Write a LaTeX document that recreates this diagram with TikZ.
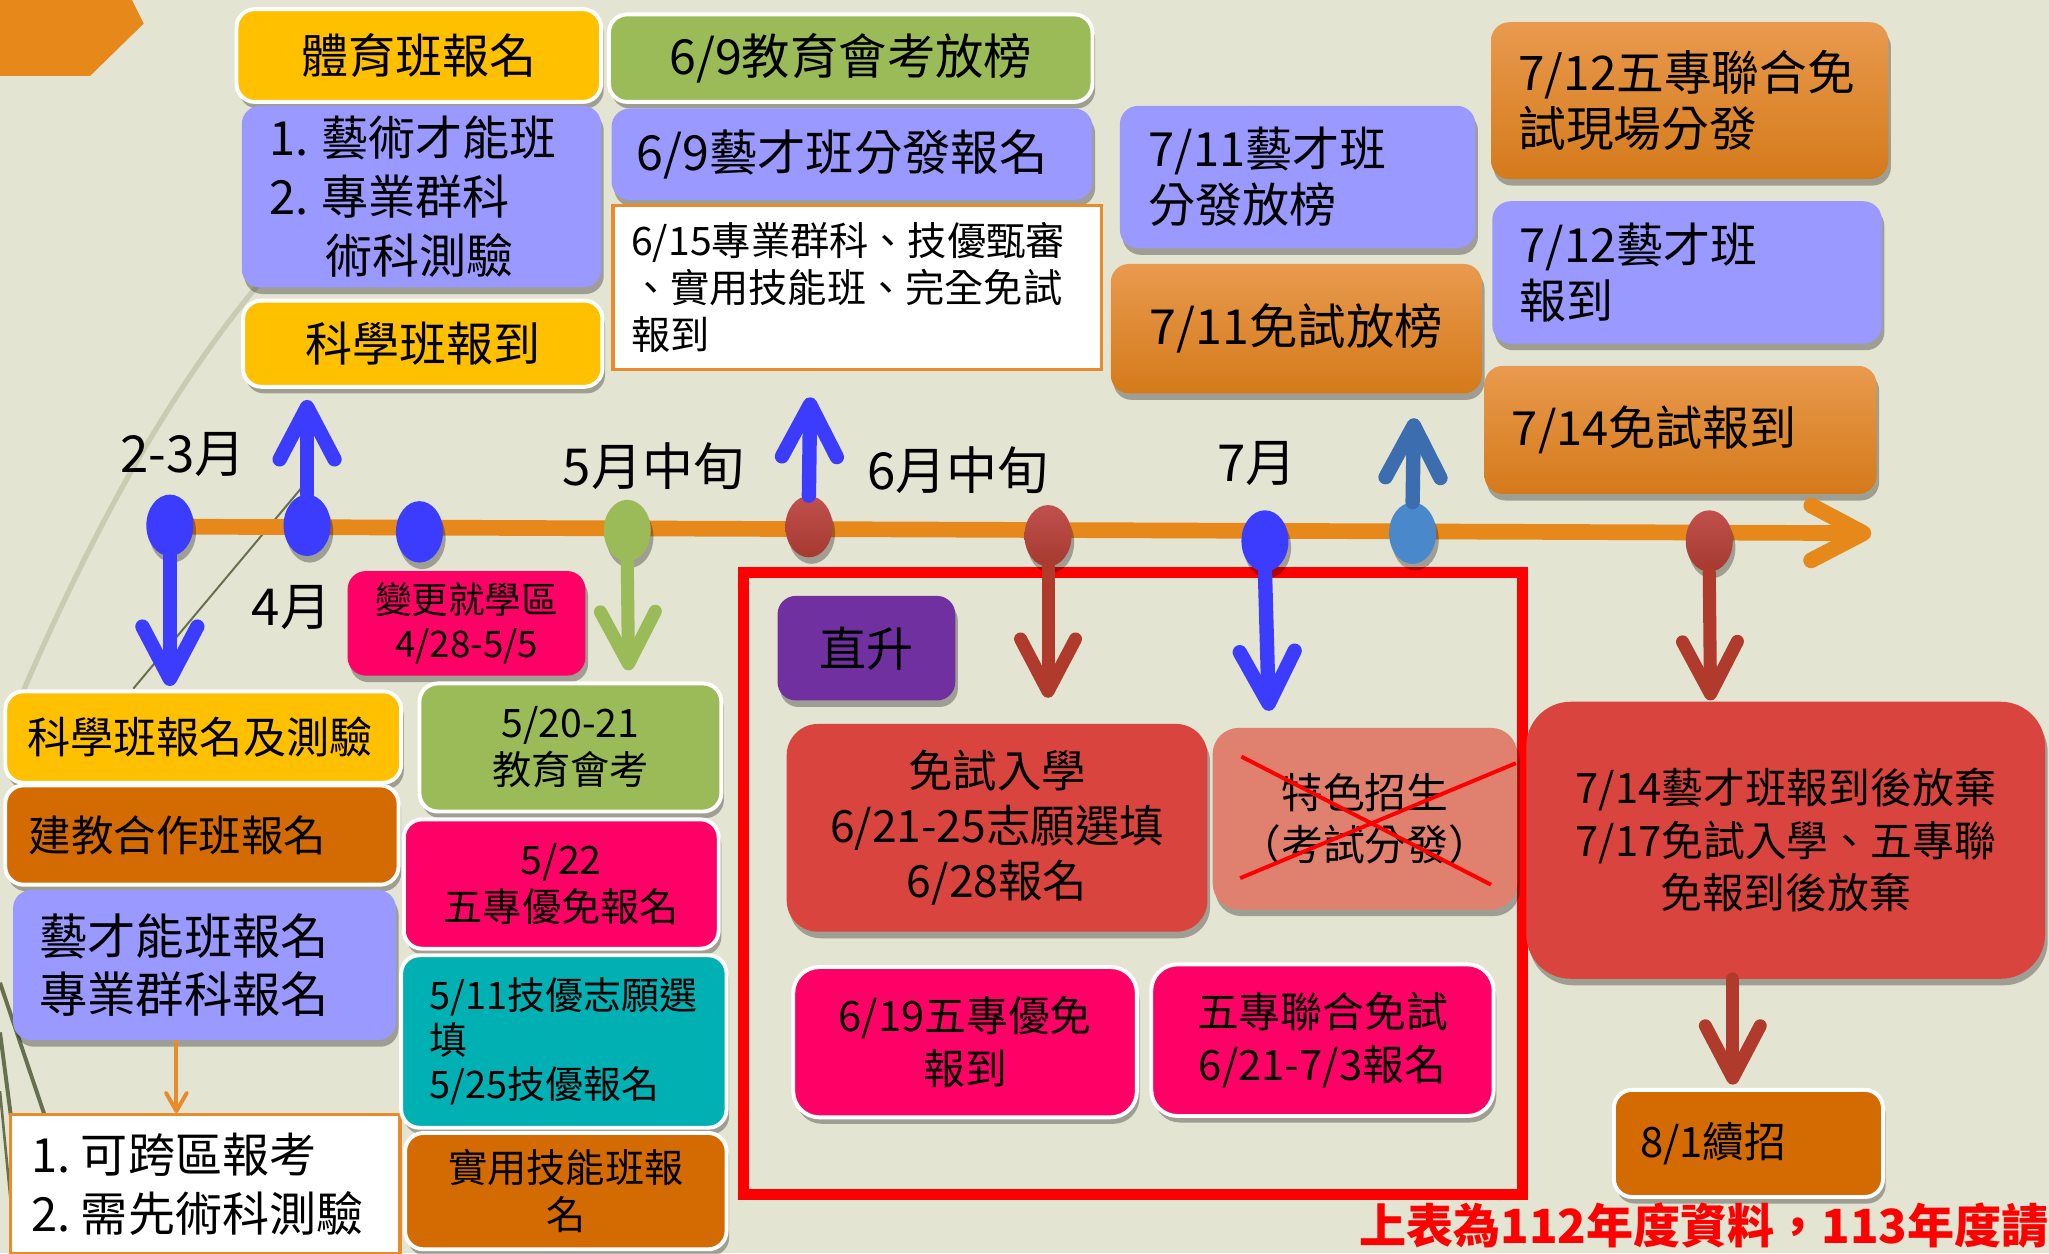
\documentclass[tikz,border=0pt]{standalone}
\usepackage{fontspec}
\newfontfamily\cjk{Noto Sans CJK TC}
\usetikzlibrary{arrows.meta,shadows,shapes.geometric}
\newcommand\fz[2]{\fontsize{#1}{#2}\selectfont}
\definecolor{bg}{HTML}{E3E4D2}
\definecolor{yel}{HTML}{FFC000}
\definecolor{lav}{HTML}{9999FF}
\definecolor{grn}{HTML}{9BBB59}
\definecolor{pnk}{HTML}{FF0066}
\definecolor{tea}{HTML}{00B0B2}
\definecolor{dor}{HTML}{D36A02}
\definecolor{pur}{HTML}{7030A0}
\definecolor{rbx}{HTML}{D9443F}
\definecolor{sal}{HTML}{E0806F}
\definecolor{orT}{HTML}{E99A4E}
\definecolor{orB}{HTML}{D47A1A}
\definecolor{obd}{HTML}{E98B2A}
\definecolor{tl}{HTML}{E6881A}
\definecolor{blu}{HTML}{3C3CFF}
\definecolor{stb}{HTML}{3B6DAF}
\definecolor{stbd}{HTML}{4A88CC}
\definecolor{drd}{HTML}{B03A2C}
\definecolor{dtT}{HTML}{C0504D}
\definecolor{dtB}{HTML}{A53A30}
\definecolor{xred}{HTML}{FF0000}
\definecolor{arcc}{HTML}{C9CCB2}
\definecolor{olv}{HTML}{66704F}
\tikzset{
  bx/.style={rounded corners=14pt, inner ysep=2pt, text=black, align=center},
  wb/.style={draw=white, line width=3pt},
  shd/.style={drop shadow={shadow xshift=2pt,shadow yshift=-5pt,opacity=.3,fill=black}},
  ogr/.style={top color=orT, bottom color=orB},
  dot/.style={ellipse, minimum width=36pt, minimum height=47pt, inner sep=0pt, shd},
  rdot/.style={dot, top color=dtT, bottom color=dtB},
  lab/.style={font=\cjk\fz{39}{44}, text=black, inner sep=0pt},
  tip/.style={-{Straight Barb[length=40pt,width=42pt,round]}},
  barrow/.style={tip, draw=blu, line width=11pt, line cap=round},
  rarrow/.style={tip, draw=drd, line width=10pt, line cap=round},
  garrow/.style={tip, draw=grn, line width=10pt, line cap=round},
  sarrow/.style={tip, draw=stb, line width=11pt, line cap=round},
}
\begin{document}
\begin{tikzpicture}[x=1pt,y=-1pt]
\clip (0,0) rectangle (1568,959);
\fill[bg] (0,0) rectangle (1568,959);
% decorative background strokes
\draw[arcc, line width=4pt] (13,540) .. controls (60,430) and (120,310) .. (200,215);
\draw[olv, line width=1.5pt] (102,527) -- (231,373);
\draw[olv, line width=3pt] (0,752) -- (34,853);
\draw[olv, line width=3pt] (0,790) -- (22,959);
\draw[olv, line width=2pt] (0,835) -- (12,959);
\fill[tl] (0,0) -- (101,0) -- (110,18) -- (69,58) -- (0,58) -- cycle;

% top boxes
\node[bx, shd, wb, fill=yel, minimum width=279pt, minimum height=71pt, font=\cjk\fz{36}{45}] (b1) at (320.5,42.5) {體育班報名};
\node[bx, shd, fill=lav, text width=233pt, inner xsep=21pt, minimum height=139pt, align=left, font=\cjk\fz{36}{45}] (b2) at (322.5,150.5) {1.\hspace{10pt}藝術才能班\\2.\hspace{10pt}專業群科\\\hspace{43pt}術科測驗};
\node[bx, shd, wb, fill=yel, minimum width=275pt, minimum height=66pt, font=\cjk\fz{36}{45}] (b3) at (323.5,263) {科學班報到};
\node[bx, shd, wb, fill=grn, minimum width=370pt, minimum height=67pt, font=\cjk\fz{37}{45}] (b4) at (651,44.5) {6/9教育會考放榜};
\node[bx, shd, fill=lav, text width=330pt, inner xsep=19pt, minimum height=70pt, align=left, font=\cjk\fz{37}{45}] (b5) at (652,118) {6/9藝才班分發報名};
\node[draw=obd, line width=2.5pt, fill=white, text width=346pt, inner xsep=14pt, inner ysep=2pt, minimum height=126pt, align=left, font=\cjk\fz{30}{36}] (b6) at (656,220) {6/15專業群科、技優甄審\\、實用技能班、完全免試\\報到};
\node[bx, shd, fill=lav, text width=228pt, inner xsep=22pt, minimum height=109pt, align=left, font=\cjk\fz{36}{43}] (b7) at (993,135.5) {7/11藝才班\\分發放榜};
\node[bx, shd, ogr, minimum width=284pt, minimum height=99pt, font=\cjk\fz{37}{45}] (b8) at (992,251.5) {7/11免試放榜};
\node[bx, shd, ogr, text width=262pt, inner xsep=21pt, minimum height=120pt, align=left, font=\cjk\fz{36.5}{43}] (b9) at (1293,77) {7/12五專聯合免\\試現場分發};
\node[bx, shd, fill=lav, text width=256pt, inner xsep=21pt, minimum height=109pt, align=left, font=\cjk\fz{36}{43}] (b10) at (1291,208.5) {7/12藝才班\\報到};
\node[bx, shd, ogr, text width=258pt, inner xsep=21pt, minimum height=98pt, align=left, font=\cjk\fz{36}{43}] (b11) at (1286,329) {7/14免試報到};

% lower left boxes
\node[bx, shd, fill=pnk, minimum width=182pt, minimum height=80pt, font=\cjk\fz{28}{33}] (b12) at (357,477) {變更就學區\\4/28-5/5};
\node[bx, shd, wb, fill=yel, text width=269pt, inner xsep=17pt, minimum height=70pt, align=left, font=\cjk\fz{33}{40}] (b13) at (155.5,564) {科學班報名及測驗};
\node[bx, shd, wb, fill=dor, text width=265pt, inner xsep=18pt, minimum height=76pt, align=left, font=\cjk\fz{32.5}{40}] (b14) at (154.5,639) {建教合作班報名};
\node[bx, shd, fill=lav, text width=253pt, inner xsep=20pt, minimum height=115pt, align=left, font=\cjk\fz{37}{44}] (b15) at (156.5,738.5) {藝才能班報名\\專業群科報名};
\node[draw=obd, line width=2.5pt, fill=white, text width=266pt, inner xsep=16pt, inner ysep=2pt, minimum height=106pt, align=left, font=\cjk\fz{36}{45}] (b16) at (157,906) {1.\hspace{8pt}可跨區報考\\2.\hspace{8pt}需先術科測驗};
\node[bx, shd, wb, fill=grn, minimum width=231pt, minimum height=98pt, font=\cjk\fz{30}{36}] (b17) at (436.5,572) {5/20-21\\教育會考};
\node[bx, shd, wb, fill=pnk, minimum width=241pt, minimum height=99pt, font=\cjk\fz{30}{36}] (b18) at (429.5,676.5) {5/22\\五專優免報名};
\node[bx, shd, wb, fill=tea, text width=205pt, inner xsep=22pt, minimum height=132pt, align=left, font=\cjk\fz{29}{34}] (b19) at (431.5,797) {5/11技優志願選\\填\\5/25技優報名};
\node[bx, shd, wb, fill=dor, minimum width=246pt, minimum height=89pt, font=\cjk\fz{30}{36}] (b20) at (433,911.5) {實用技能班報\\名};

% direct-entry frame
\draw[xred, line width=8pt] (569,438) rectangle (1165,914);
\node[bx, shd, fill=pur, minimum width=136pt, minimum height=80pt, font=\cjk\fz{36}{45}] (b22) at (663,496) {直升};
\node[bx, shd, fill=rbx, rounded corners=24pt, minimum width=322pt, minimum height=159pt, font=\cjk\fz{34}{42}] (b23) at (763,633.5) {免試入學\\6/21-25志願選填\\6/28報名};
\node[bx, shd, fill=sal, rounded corners=20pt, minimum width=233pt, minimum height=139pt, font=\cjk\fz{32}{40}] (b24) at (1044.5,626.5) {特色招生\\（考試分發）};
\draw[xred, line width=3pt] (950,579) -- (1141,677);
\draw[xred, line width=3pt] (949,672) -- (1160,584);
\node[bx, shd, wb, fill=pnk, rounded corners=20pt, minimum width=263pt, minimum height=115pt, font=\cjk\fz{32}{40}] (b25) at (738.5,797.5) {6/19五專優免\\報到};
\node[bx, shd, wb, fill=pnk, rounded corners=20pt, minimum width=262pt, minimum height=116pt, font=\cjk\fz{32}{40}] (b26) at (1012,796) {五專聯合免試\\6/21-7/3報名};

% right boxes
\node[bx, shd, fill=rbx, rounded corners=34pt, minimum width=397pt, minimum height=212pt, font=\cjk\fz{32}{40}] (b27) at (1366.5,643) {7/14藝才班報到後放棄\\7/17免試入學、五專聯\\免報到後放棄};
\node[bx, shd, wb, fill=dor, text width=166pt, inner xsep=20pt, minimum height=82pt, align=left, font=\cjk\fz{32}{40}] (b28) at (1338,875) {8/1續招};

% month labels
\node[lab] (m1) at (140,348) {2-3月};
\node[lab] (m2) at (223,465) {4月};
\node[lab] (m3) at (500,357) {5月中旬};
\node[lab] (m4) at (733,360) {6月中旬};
\node[lab] (m5) at (962,355) {7月};

% timeline
\coordinate (t0) at (128,403);
\coordinate (t1) at (1432,408);
\draw[tl, line width=12pt, -{Straight Barb[length=40pt,width=42pt,round]}] (t0) -- (t1);

% arrow ends
\coordinate (e1) at (130,525);
\coordinate (e2) at (235,306);
\coordinate (e4) at (481,513);
\coordinate (e5) at (620,304);
\coordinate (e6) at (802,534);
\coordinate (e7) at (971,544);
\coordinate (e8) at (1082,320);
\coordinate (e9) at (1309,536);
\coordinate (e10) at (1326,830);

% dots
\node[dot, fill=blu] (d1) at (130,402) {};
\node[dot, fill=blu] (d2) at (235,402) {};
\node[dot, fill=blu] (d3) at (321,407) {};
\node[dot, fill=grn] (d4) at (480,406) {};
\node[rdot] (d5) at (619,403) {};
\node[rdot] (d6) at (802,410) {};
\node[dot, fill=blu] (d7) at (968,414) {};
\node[dot, fill=stbd] (d8) at (1081,408) {};
\node[rdot] (d9) at (1308,414) {};

% arrows
\draw[barrow] (d1.south) -- (e1);
\draw[barrow] (d2.north) -- (e2);
\draw[garrow] (d4.south) -- (e4);
\draw[barrow] (d5.north) -- (e5);
\draw[rarrow] (d6.south) -- (e6);
\draw[barrow] (d7.south) -- (e7);
\draw[sarrow] (d8.north) -- (e8);
\draw[rarrow] (d9.south) -- (e9);
\draw[rarrow] (b27.south -| e10) -- (e10);
\draw[obd, line width=3pt, -{Straight Barb[length=14pt,width=16pt,round]}] (b15.south -| 135,0) -- (b16.north -| 135,0);

% note
\node[anchor=west, text=xred, font=\cjk\bfseries\fz{36}{42}, inner sep=0pt] (note) at (1040,938) {上表為112年度資料，113年度請以};
\end{tikzpicture}
\end{document}
